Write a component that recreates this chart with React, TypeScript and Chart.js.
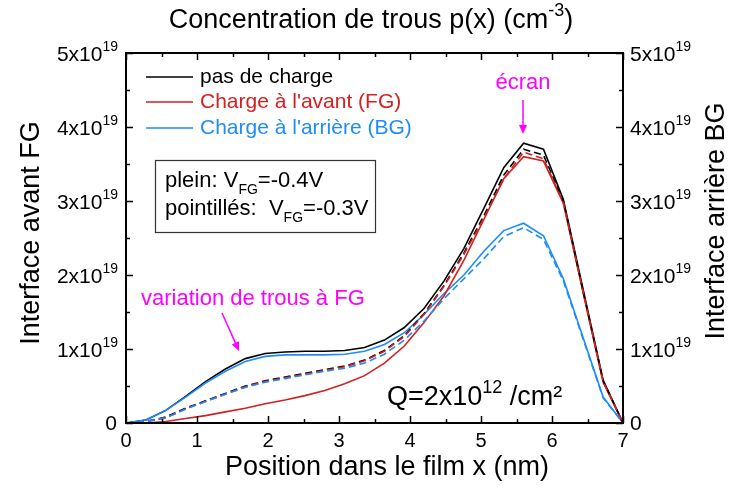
import React, { useEffect, useRef } from "react";
import { Chart, registerables } from "chart.js";

Chart.register(...registerables);

// Position dans le film (nm)
const xPos = [0, 0.28, 0.56, 0.84, 1.12, 1.4, 1.68, 1.96, 2.24, 2.52, 2.8, 3.08, 3.36, 3.64, 3.92, 4.2, 4.48, 4.76, 5.04, 5.32, 5.6, 5.88, 6.16, 6.44, 6.72, 7.0];

// Concentration in units of 1e19 cm^-3
// plein: VFG = -0.4 V
const noChargeSolid = [0, 0.04, 0.17, 0.36, 0.56, 0.73, 0.87, 0.94, 0.96, 0.97, 0.97, 0.98, 1.02, 1.12, 1.29, 1.55, 1.92, 2.36, 2.9, 3.45, 3.78, 3.7, 3.02, 1.8, 0.58, 0];
const frontSolid = [0, 0.0, 0.02, 0.06, 0.1, 0.15, 0.2, 0.26, 0.31, 0.37, 0.44, 0.53, 0.64, 0.81, 1.04, 1.36, 1.72, 2.2, 2.75, 3.3, 3.6, 3.54, 2.97, 1.76, 0.55, 0];
const backSolid = [0, 0.04, 0.17, 0.35, 0.54, 0.7, 0.83, 0.9, 0.92, 0.92, 0.92, 0.93, 0.97, 1.06, 1.22, 1.47, 1.75, 2.0, 2.32, 2.6, 2.7, 2.53, 1.95, 1.15, 0.35, 0];
// pointillés: VFG = -0.3 V
const noChargeDash = [0, 0.02, 0.08, 0.2, 0.3, 0.4, 0.5, 0.57, 0.62, 0.67, 0.72, 0.77, 0.85, 0.98, 1.18, 1.48, 1.86, 2.3, 2.8, 3.35, 3.7, 3.62, 3.0, 1.77, 0.57, 0];
const frontDash = [0, 0.02, 0.07, 0.19, 0.29, 0.39, 0.49, 0.56, 0.61, 0.66, 0.71, 0.76, 0.84, 0.97, 1.17, 1.47, 1.85, 2.28, 2.77, 3.3, 3.66, 3.57, 2.98, 1.76, 0.56, 0];
const backDash = [0, 0.02, 0.07, 0.19, 0.29, 0.39, 0.48, 0.55, 0.6, 0.65, 0.7, 0.74, 0.81, 0.93, 1.12, 1.38, 1.68, 1.95, 2.22, 2.52, 2.64, 2.48, 1.92, 1.13, 0.34, 0];

const xTicks = [0, 1, 2, 3, 4, 5, 6, 7];
const yTicks = [0, 1, 2, 3, 4, 5];
const legendLabels = ["pas de charge", "Charge à l'avant (FG)", "Charge à l'arrière (BG)"];

const BLACK = "#000000";
const RED = "#d42020";
const BLUE = "#1c8cff";
const MAGENTA = "#ff00ff";
const FONT = "'Liberation Sans', Arial, sans-serif";

function pts(ys: number[]) {
  return xPos.map((x, i) => ({ x, y: ys[i] }));
}

function drawArrow(ctx: CanvasRenderingContext2D, x1: number, y1: number, x2: number, y2: number, color: string) {
  ctx.strokeStyle = color;
  ctx.fillStyle = color;
  ctx.lineWidth = 1.5;
  const ang = Math.atan2(y2 - y1, x2 - x1);
  const hl = 9, hw = 4;
  ctx.beginPath();
  ctx.moveTo(x1, y1);
  ctx.lineTo(x2 - Math.cos(ang) * hl * 0.8, y2 - Math.sin(ang) * hl * 0.8);
  ctx.stroke();
  ctx.beginPath();
  ctx.moveTo(x2, y2);
  ctx.lineTo(x2 - Math.cos(ang) * hl - Math.sin(ang) * hw, y2 - Math.sin(ang) * hl + Math.cos(ang) * hw);
  ctx.lineTo(x2 - Math.cos(ang) * hl + Math.sin(ang) * hw, y2 - Math.sin(ang) * hl - Math.cos(ang) * hw);
  ctx.closePath();
  ctx.fill();
}

const annotPlugin = {
  id: "annot",
  afterDraw(chart: any) {
    const ctx: CanvasRenderingContext2D = chart.ctx;
    const { left, right, top, bottom } = chart.chartArea;
    const xs = chart.scales.x;
    const ys = chart.scales.y;
    ctx.save();

    // frame
    ctx.strokeStyle = BLACK;
    ctx.lineWidth = 2;
    ctx.strokeRect(left, top, right - left, bottom - top);

    // ticks (inward)
    ctx.lineWidth = 1.5;
    ctx.beginPath();
    for (let i = 0; i <= 14; i++) {
      const v = i * 0.5;
      const px = Math.round(xs.getPixelForValue(v)) + 0.5;
      const L = i % 2 === 0 ? 7 : 4;
      ctx.moveTo(px, bottom); ctx.lineTo(px, bottom - L);
      ctx.moveTo(px, top); ctx.lineTo(px, top + L);
    }
    for (let i = 0; i <= 10; i++) {
      const v = i * 0.5;
      const py = Math.round(ys.getPixelForValue(v)) + 0.5;
      const L = i % 2 === 0 ? 7 : 4;
      ctx.moveTo(left, py); ctx.lineTo(left + L, py);
      ctx.moveTo(right, py); ctx.lineTo(right - L, py);
    }
    ctx.stroke();

    ctx.fillStyle = BLACK;
    // x tick labels
    ctx.font = `20px ${FONT}`;
    ctx.textAlign = "center";
    ctx.textBaseline = "middle";
    xTicks.forEach((v) => {
      ctx.fillText(String(v), xs.getPixelForValue(v), 441);
    });

    // y tick labels (both sides)
    const baseFont = `21px ${FONT}`;
    const supFont = `14px ${FONT}`;
    yTicks.forEach((v) => {
      const py = ys.getPixelForValue(v);
      if (v === 0) {
        ctx.font = baseFont;
        ctx.textAlign = "right";
        ctx.fillText("0", 117, py + 1);
        ctx.textAlign = "left";
        ctx.fillText("0", 630, py + 1);
        return;
      }
      const base = `${v}x10`;
      ctx.font = supFont;
      const sw = ctx.measureText("19").width;
      ctx.font = baseFont;
      const bw = ctx.measureText(base).width;
      // left
      ctx.textAlign = "left";
      const lx = 118 - sw - bw;
      ctx.fillText(base, lx, py + 2);
      ctx.font = supFont;
      ctx.fillText("19", lx + bw, py - 6);
      // right
      ctx.font = baseFont;
      ctx.fillText(base, 630, py + 2);
      ctx.font = supFont;
      ctx.fillText("19", 630 + bw, py - 6);
    });

    // Title
    ctx.textAlign = "left";
    const t1 = "Concentration de trous p(x) (cm";
    ctx.font = `18px ${FONT}`;
    const tsup = ctx.measureText("-3").width;
    ctx.font = `27px ${FONT}`;
    const tw = ctx.measureText(t1).width;
    const tpw = ctx.measureText(")").width;
    const tx = 371 - (tw + tsup + tpw) / 2;
    ctx.fillText(t1, tx, 21);
    ctx.font = `18px ${FONT}`;
    ctx.fillText("-3", tx + tw, 11);
    ctx.font = `27px ${FONT}`;
    ctx.fillText(")", tx + tw + tsup, 21);

    // Axis titles
    ctx.textAlign = "center";
    ctx.fillText("Position dans le film x (nm)", 387, 468);
    ctx.save();
    ctx.translate(32, 233);
    ctx.rotate(-Math.PI / 2);
    ctx.fillText("Interface avant FG", 0, 0);
    ctx.restore();
    ctx.save();
    ctx.translate(717, 221);
    ctx.rotate(-Math.PI / 2);
    ctx.fillText("Interface arrière BG", 0, 0);
    ctx.restore();

    // Legend
    const legColors = [BLACK, RED, BLUE];
    const legY = [77, 102, 128];
    ctx.font = `21px ${FONT}`;
    ctx.textAlign = "left";
    legendLabels.forEach((lab, i) => {
      ctx.strokeStyle = legColors[i];
      ctx.lineWidth = 1.5;
      ctx.beginPath();
      ctx.moveTo(146, legY[i]);
      ctx.lineTo(193, legY[i]);
      ctx.stroke();
      ctx.fillStyle = legColors[i];
      ctx.fillText(lab, 200, legY[i]);
    });

    // Box
    ctx.strokeStyle = "#333";
    ctx.lineWidth = 1.2;
    ctx.strokeRect(155.5, 160.5, 220, 72);
    ctx.fillStyle = BLACK;
    const drawSub = (pre: string, rest: string, x: number, y: number) => {
      ctx.font = `22px ${FONT}`;
      ctx.fillText(pre, x, y);
      const pw = ctx.measureText(pre).width;
      ctx.font = `14px ${FONT}`;
      ctx.fillText("FG", x + pw, y + 9);
      const sw2 = ctx.measureText("FG").width;
      ctx.font = `22px ${FONT}`;
      ctx.fillText(rest, x + pw + sw2, y);
    };
    drawSub("plein: V", "=-0.4V", 165, 181);
    drawSub("pointillés:  V", "=-0.3V", 165, 209);

    // Magenta annotations
    ctx.fillStyle = MAGENTA;
    ctx.font = `22px ${FONT}`;
    ctx.textAlign = "center";
    ctx.fillText("écran", 523, 83);
    drawArrow(ctx, 523, 100, 523, 134, MAGENTA);
    ctx.textAlign = "left";
    ctx.fillStyle = MAGENTA;
    ctx.fillText("variation de trous à FG", 141, 299);
    drawArrow(ctx, 222, 313, 239, 351, MAGENTA);

    // Q label
    ctx.fillStyle = BLACK;
    ctx.font = `27px ${FONT}`;
    const q1 = "Q=2x10";
    const qw = ctx.measureText(q1).width;
    ctx.fillText(q1, 387, 398);
    ctx.font = `18px ${FONT}`;
    ctx.fillText("12", 387 + qw, 388);
    const q2w = ctx.measureText("12").width;
    ctx.font = `27px ${FONT}`;
    ctx.fillText(" /cm²", 387 + qw + q2w, 398);

    ctx.restore();
  },
};

export default function App() {
  const ref = useRef<HTMLCanvasElement | null>(null);
  useEffect(() => {
    if (!ref.current) return;
    const mk = (label: string, ys: number[], color: string, dashed: boolean) => ({
      label,
      data: pts(ys),
      borderColor: color,
      backgroundColor: color,
      borderWidth: 1.6,
      borderDash: dashed ? [7, 4] : [],
      pointRadius: 0,
      tension: 0,
      fill: false,
    });
    const chart = new Chart(ref.current, {
      type: "line",
      data: {
        datasets: [
          mk("BG -0.3V", backDash, BLUE, true),
          mk("FG -0.3V", frontDash, RED, true),
          mk("pas de charge -0.3V", noChargeDash, BLACK, true),
          mk("FG -0.4V", frontSolid, RED, false),
          mk("BG -0.4V", backSolid, BLUE, false),
          mk("pas de charge -0.4V", noChargeSolid, BLACK, false),
        ],
      },
      options: {
        responsive: false,
        animation: false,
        devicePixelRatio: 1,
        layout: { padding: { left: 126, right: 110, top: 53, bottom: 70 } },
        scales: {
          x: { type: "linear", min: 0, max: 7, display: false },
          y: { type: "linear", min: 0, max: 5, display: false },
        },
        plugins: {
          legend: { display: false },
          title: { display: false },
          tooltip: { enabled: false },
        },
      },
      plugins: [annotPlugin],
    });
    return () => chart.destroy();
  }, []);
  return (
    <div style={{ position: "fixed", left: 0, top: 0, width: 733, height: 493, background: "#fff" }}>
      <canvas ref={ref} width={733} height={493} style={{ display: "block" }} />
    </div>
  );
}
